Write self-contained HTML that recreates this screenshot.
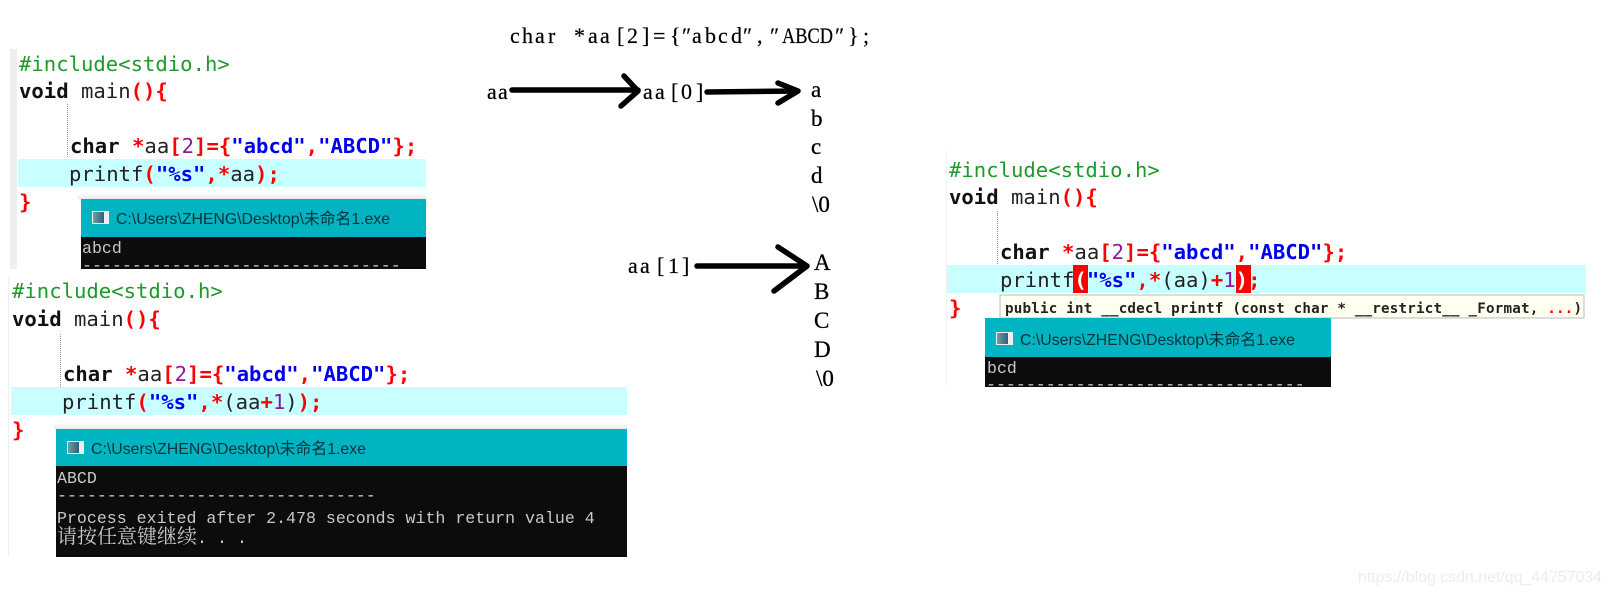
<!DOCTYPE html>
<html>
<head>
<meta charset="utf-8">
<style>
html,body{margin:0;padding:0;background:#fff;width:1611px;height:593px;overflow:hidden}
svg{display:block}
.c{font-family:"DejaVu Sans Mono","Liberation Mono",monospace;font-size:20.6px;fill:#222;white-space:pre}
.r{fill:#f00;font-weight:bold}
.g{fill:#1e9a2a}
.u{fill:#0000f0;font-weight:bold}
.p{fill:#8b1a9b}
.k{fill:#111;font-weight:bold}
.t{font-family:"Liberation Sans","Noto Sans CJK SC",sans-serif;font-size:16px;fill:#07333a}
.o{font-family:"Liberation Mono","Noto Serif CJK SC",monospace;font-size:16.6px;fill:#c8c8c8}
.m{font-family:"Liberation Serif",serif;fill:#000;font-size:22px;stroke:#000;stroke-width:.2}
.s{font-family:"Liberation Serif",serif;fill:#000;font-size:23px;stroke:#000;stroke-width:.3}
.a{fill:none;stroke:#000;stroke-width:5.500;stroke-linecap:round;stroke-linejoin:round}
</style>
</head>
<body>
<svg width="1611" height="593" viewBox="0 0 1611 593" xmlns="http://www.w3.org/2000/svg">
<defs>
<linearGradient id="sh" x1="0" y1="0" x2="0" y2="1"><stop offset="0" stop-color="#fff"/><stop offset="1" stop-color="#e8e8e8"/></linearGradient>
<linearGradient id="ic" x1="0" y1="0" x2="1" y2="0"><stop offset="0" stop-color="#6f9f9f"/><stop offset="1" stop-color="#2f5f7f"/></linearGradient>
</defs>

<!-- Panel 1 -->
<rect x="10" y="49" width="7" height="220" fill="#efefef"/>
<rect x="18" y="159" width="408" height="28" fill="#c8ffff"/>
<line x1="67.500" y1="104" x2="67.500" y2="158" stroke="#999" stroke-dasharray="1 1"/>
<text class="c g" x="19" y="71">#include&lt;stdio.h&gt;</text>
<text class="c" x="19" y="98"><tspan class="k">void</tspan> main<tspan class="r">(){</tspan></text>
<text class="c" x="70" y="153"><tspan class="k">char</tspan> <tspan class="r">*</tspan>aa<tspan class="r">[</tspan><tspan class="p">2</tspan><tspan class="r">]={</tspan><tspan class="u">"abcd"</tspan><tspan class="r">,</tspan><tspan class="u">"ABCD"</tspan><tspan class="r">};</tspan></text>
<text class="c" x="69" y="181">printf<tspan class="r">(</tspan><tspan class="u">"%s"</tspan><tspan class="r">,*</tspan>aa<tspan class="r">);</tspan></text>
<text class="c r" x="19" y="209">}</text>
<rect x="78" y="193" width="348" height="6" fill="url(#sh)"/>
<rect x="81" y="199" width="345" height="38" fill="#00b4c2"/>
<rect x="81" y="237" width="345" height="32" fill="#0c0c0c"/>
<rect x="92" y="211" width="17" height="13" fill="#eee"/><rect x="93" y="212" width="11" height="11" fill="url(#ic)"/>
<text class="t" x="116" y="224" textLength="274" lengthAdjust="spacingAndGlyphs">C:\Users\ZHENG\Desktop\未命名1.exe</text>
<text class="o" x="82" y="253">abcd</text>
<text class="o" x="82" y="270.500">--------------------------------</text>

<!-- Panel 2 -->
<rect x="8" y="277" width="1" height="280" fill="#eee"/>
<rect x="11" y="387" width="616" height="28" fill="#c8ffff"/>
<line x1="60.500" y1="334" x2="60.500" y2="387" stroke="#999" stroke-dasharray="1 1"/>
<text class="c g" x="12" y="298">#include&lt;stdio.h&gt;</text>
<text class="c" x="12" y="326"><tspan class="k">void</tspan> main<tspan class="r">(){</tspan></text>
<text class="c" x="63" y="381"><tspan class="k">char</tspan> <tspan class="r">*</tspan>aa<tspan class="r">[</tspan><tspan class="p">2</tspan><tspan class="r">]={</tspan><tspan class="u">"abcd"</tspan><tspan class="r">,</tspan><tspan class="u">"ABCD"</tspan><tspan class="r">};</tspan></text>
<text class="c" x="62" y="409">printf<tspan class="r">(</tspan><tspan class="u">"%s"</tspan><tspan class="r">,*</tspan>(aa<tspan class="r">+</tspan><tspan class="p">1</tspan>)<tspan class="r">);</tspan></text>
<text class="c r" x="12" y="437">}</text>
<rect x="54" y="423" width="573" height="6" fill="url(#sh)"/>
<rect x="56" y="429" width="571" height="37" fill="#00b4c2"/>
<rect x="56" y="466" width="571" height="91" fill="#0c0c0c"/>
<rect x="67" y="441" width="17" height="13" fill="#eee"/><rect x="68" y="442" width="11" height="11" fill="url(#ic)"/>
<text class="t" x="91" y="454" textLength="275" lengthAdjust="spacingAndGlyphs">C:\Users\ZHENG\Desktop\未命名1.exe</text>
<text class="o" x="57" y="483">ABCD</text>
<text class="o" x="57" y="500.500">--------------------------------</text>
<text class="o" x="57" y="523">Process exited after 2.478 seconds with return value 4</text>
<text class="o" x="57" y="543" style="font-family:'Noto Serif CJK SC','Liberation Mono',serif;font-size:20px">请按任意键继续</text>
<text class="o" x="197" y="543">.</text><text class="o" x="217" y="543">.</text><text class="o" x="237" y="543">.</text>

<!-- Middle -->
<text class="m" x="510 522 535 548 561 574 588 600 617 627 642 653 670 682 692 705 718 731 743 757 770" y="43">char *aa[2]={″abcd″,″</text>
<text class="m" x="782" y="43" textLength="51" lengthAdjust="spacingAndGlyphs">ABCD</text>
<text class="m" x="835 848 863" y="43">″};</text>
<text class="m" x="487 498" y="99">aa</text>
<text class="m" x="643 655 671 681 696" y="99">aa[0]</text>
<text class="m" x="628 640 657 668 682" y="273">aa[1]</text>
<text class="s" x="811" y="97">a</text>
<text class="s" x="811" y="126">b</text>
<text class="s" x="811" y="154">c</text>
<text class="s" x="811" y="183">d</text>
<text class="s" x="812" y="212">\0</text>
<text class="s" x="814" y="270">A</text>
<text class="s" x="814" y="299">B</text>
<text class="s" x="814" y="328">C</text>
<text class="s" x="814" y="357">D</text>
<text class="s" x="816" y="386">\0</text>
<path class="a" d="M512 90H638M624 76L638 91L621 106"/>
<path class="a" d="M707 92L798 91M778 83L798 91L778 103"/>
<path class="a" d="M697 266H807M778 247L807 266L774 291"/>

<!-- Panel 3 -->
<rect x="946" y="150" width="1" height="238" fill="#f2f2f2"/>
<rect x="947" y="265" width="639" height="28" fill="#c8ffff"/>
<line x1="997.500" y1="211" x2="997.500" y2="265" stroke="#999" stroke-dasharray="1 1"/>
<rect x="1073" y="265" width="15" height="28" fill="#f00"/>
<rect x="1236" y="265" width="15" height="28" fill="#f00"/>
<text class="c g" x="949" y="177">#include&lt;stdio.h&gt;</text>
<text class="c" x="949" y="204"><tspan class="k">void</tspan> main<tspan class="r">(){</tspan></text>
<text class="c" x="1000" y="259"><tspan class="k">char</tspan> <tspan class="r">*</tspan>aa<tspan class="r">[</tspan><tspan class="p">2</tspan><tspan class="r">]={</tspan><tspan class="u">"abcd"</tspan><tspan class="r">,</tspan><tspan class="u">"ABCD"</tspan><tspan class="r">};</tspan></text>
<text class="c" x="1000" y="287">printf<tspan style="fill:#fff;font-weight:bold">(</tspan><tspan class="u">"%s"</tspan><tspan class="r">,*</tspan>(aa)<tspan class="r">+</tspan><tspan class="p">1</tspan><tspan style="fill:#fff;font-weight:bold">)</tspan><tspan class="r">;</tspan></text>
<text class="c r" x="949" y="315">}</text>
<rect x="1000" y="295" width="584" height="23" fill="#fffff0" stroke="#bbb"/>
<text x="1005" y="313" style="font-family:'DejaVu Sans Mono',monospace;font-size:14.200px;font-weight:bold;fill:#222" textLength="577" lengthAdjust="spacing">public int __cdecl printf (const char * __restrict__ _Format, <tspan fill="#f00">...</tspan>)</text>
<rect x="985" y="318" width="346" height="39" fill="#00b4c2"/>
<rect x="985" y="357" width="346" height="30" fill="#0c0c0c"/>
<rect x="996" y="332" width="17" height="13" fill="#eee"/><rect x="997" y="333" width="11" height="11" fill="url(#ic)"/>
<text class="t" x="1020" y="345" textLength="275" lengthAdjust="spacingAndGlyphs">C:\Users\ZHENG\Desktop\未命名1.exe</text>
<text class="o" x="987" y="373">bcd</text>
<text class="o" x="986" y="389.500">--------------------------------</text>

<!-- Watermark -->
<text x="1358" y="582" style="font-family:'Liberation Sans',sans-serif;font-size:16px;fill:#ececec" textLength="244" lengthAdjust="spacingAndGlyphs">https://blog.csdn.net/qq_44757034</text>
</svg>
</body>
</html>
